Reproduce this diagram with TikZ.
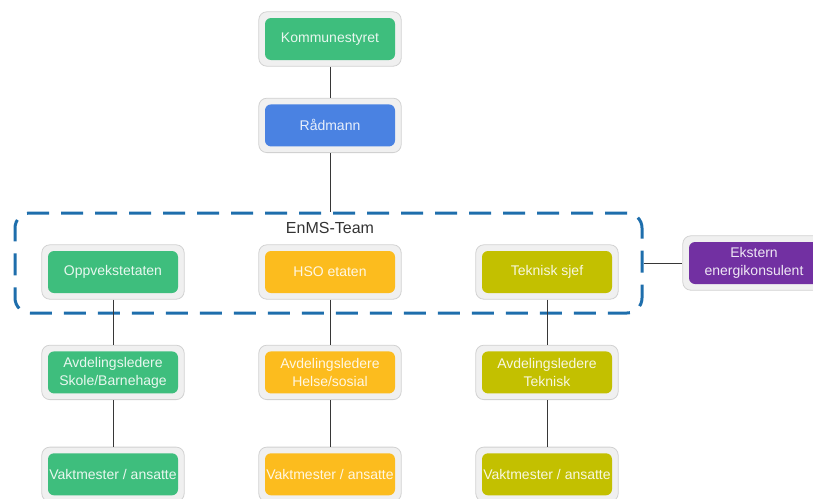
\documentclass[tikz,border=0pt]{standalone}
\usepackage{fontspec}
\setmainfont{Liberation Sans}
\usetikzlibrary{positioning}
\usetikzlibrary{fit}
\pgfdeclarelayer{background}
\pgfsetlayers{background,main}
\definecolor{komcolor}{RGB}{62, 190, 125}
\definecolor{radcolor}{RGB}{74, 130, 226}
\definecolor{hsocolor}{RGB}{252, 188, 30}
\definecolor{tekcolor}{RGB}{195, 192, 0}
\definecolor{ekstcolor}{RGB}{114, 48, 162}
\definecolor{teamcolor}{RGB}{30, 110, 172}
\definecolor{linkcolor}{RGB}{55, 55, 55}
\tikzset{unit/.style={fill=#1, text=#1!12!white, rounded corners=6pt, minimum width=130pt, minimum height=42pt, inner sep=1pt, align=center, font=\fontsize{14}{18}\selectfont}}
\tikzstyle{frame} = [draw=black!18, fill=black!6, line width=0.8pt, rounded corners=8pt, inner sep=6pt]
\tikzstyle{team} = [draw=teamcolor, line width=3pt, dash pattern=on 22pt off 12pt, rounded corners=15pt, minimum width=627pt, minimum height=100pt]
\tikzstyle{link} = [draw=linkcolor, line width=0.9pt]

\begin{document}
\begin{tikzpicture}[x=1pt, y=-1pt]
	\useasboundingbox (0,0) rectangle (813,498);
	
	%
	% Top
	\node [unit=komcolor] at (330,39) (kom) {Kommunestyret};
	\node [unit=radcolor, below=44pt of kom] (rad) {Rådmann};
	
	%
	% EnMS-Team
	\node [team] at (328.5,263) (team) {};
	\node [text=black!80, font=\fontsize{16}{18}\selectfont] at (330,228) (team_lbl) {EnMS-Team};
	\node [unit=komcolor] at (113,272) (opp_eta) {Oppvekstetaten};
	\node [unit=hsocolor] at (330,272) (hso_eta) {HSO etaten};
	\node [unit=tekcolor] at (547,272) (tek_sjef) {Teknisk sjef};
	
	% Ekstern
	\node [unit=ekstcolor] at (754,263) (ekst) {Ekstern\\energikonsulent};
	
	%
	% Avdelinger
	\node [unit=komcolor, below=58pt of opp_eta] (avd_skole) {Avdelingsledere\\Skole/Barnehage};
	\node [unit=hsocolor, below=58pt of hso_eta] (avd_helse) {Avdelingsledere\\Helse/sosial};
	\node [unit=tekcolor, below=58pt of tek_sjef] (avd_tek) {Avdelingsledere\\Teknisk};
	
	% Vaktmester
	\node [unit=komcolor, below=59.5pt of avd_skole] (vakt_opp) {Vaktmester / ansatte};
	\node [unit=hsocolor, below=59.5pt of avd_helse] (vakt_hso) {Vaktmester / ansatte};
	\node [unit=tekcolor, below=59.5pt of avd_tek] (vakt_tek) {Vaktmester / ansatte};
	
	% Frames
	\begin{pgfonlayer}{background}
		\foreach \n in {kom,rad,opp_eta,hso_eta,tek_sjef,ekst,avd_skole,avd_helse,avd_tek,vakt_opp,vakt_hso,vakt_tek}
			\node [frame, fit=(\n)] (\n_fr) {};
	\end{pgfonlayer}
	
	%
	% Links
	\draw [link] (kom_fr) -- (rad_fr);
	\draw [link] (rad_fr.south) -- (rad_fr.south |- team.north);
	\draw [link] (team.east) -- (ekst_fr.west);
	
	\draw [link] (opp_eta_fr) -- (avd_skole_fr);
	\draw [link] (avd_skole_fr) -- (vakt_opp_fr);
	\draw [link] (hso_eta_fr) -- (avd_helse_fr);
	\draw [link] (avd_helse_fr) -- (vakt_hso_fr);
	\draw [link] (tek_sjef_fr) -- (avd_tek_fr);
	\draw [link] (avd_tek_fr) -- (vakt_tek_fr);
	
\end{tikzpicture}
\end{document}
